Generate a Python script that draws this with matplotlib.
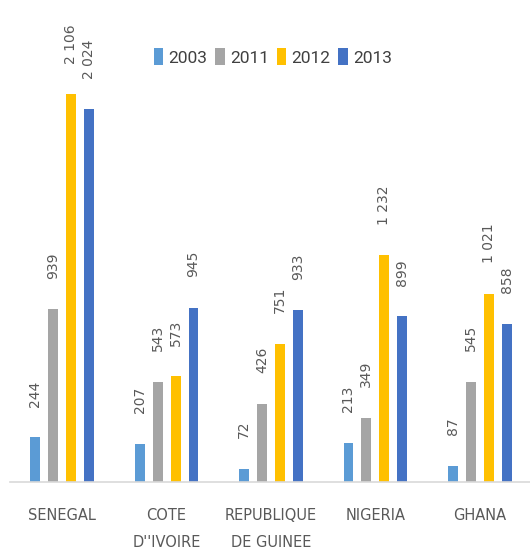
import matplotlib
matplotlib.use("Agg")
import matplotlib.pyplot as plt
import numpy as np

categories = ["SENEGAL", "COTE\nD''IVOIRE", "REPUBLIQUE\nDE GUINEE", "NIGERIA", "GHANA"]
series_names = ["2003", "2011", "2012", "2013"]
v2003 = [244, 207, 72, 213, 87]
v2011 = [939, 543, 426, 349, 545]
v2012 = [2106, 573, 751, 1232, 1021]
v2013 = [2024, 945, 933, 899, 858]
colors = ["#5B9BD5", "#A5A5A5", "#FFC000", "#4472C4"]

plt.rcParams['font.family'] = ['DejaVu Sans']

fig = plt.figure(figsize=(5.30, 5.53), dpi=100)
ax = fig.add_axes([10/530, 71/553, 522/530, 442/553])

x = np.arange(len(categories))
step = 0.172
width = 0.095
all_vals = [v2003, v2011, v2012, v2013]
for i, (vals, name, c) in enumerate(zip(all_vals, series_names, colors)):
    pos = x + (i - 1.5) * step
    ax.bar(pos, vals, width=width, color=c, label=name)
    for p, v in zip(pos, vals):
        lab = f"{v:,}".replace(",", " ")
        ax.annotate(lab, (p, v), xytext=(0, 22), textcoords="offset points",
                    rotation=90, ha="center", va="bottom", color="#595959",
                    fontsize=10)

ax.set_xlim(-0.5, 4.5)
ax.set_ylim(0, 2400)
ax.set_yticks([])
ax.set_xticks(x)
ax.set_xticklabels(categories, fontsize=10.5, color="#595959", linespacing=2.0)
ax.tick_params(axis='x', length=0, pad=19)
for s in ["top", "right", "left"]:
    ax.spines[s].set_visible(False)
ax.spines["bottom"].set_color("#D9D9D9")
ax.spines["bottom"].set_linewidth(1.2)

leg = fig.legend(loc="center", bbox_to_anchor=(273/530, 1 - 57/553), ncol=4, frameon=False,
                 prop={'family': ['Roboto', 'DejaVu Sans'], 'size': 12.5},
                 handlelength=0.55, handleheight=1.1, handletextpad=0.3,
                 columnspacing=0.45, labelcolor="#404040", borderpad=0)

fig.savefig("out.png", dpi=100)
